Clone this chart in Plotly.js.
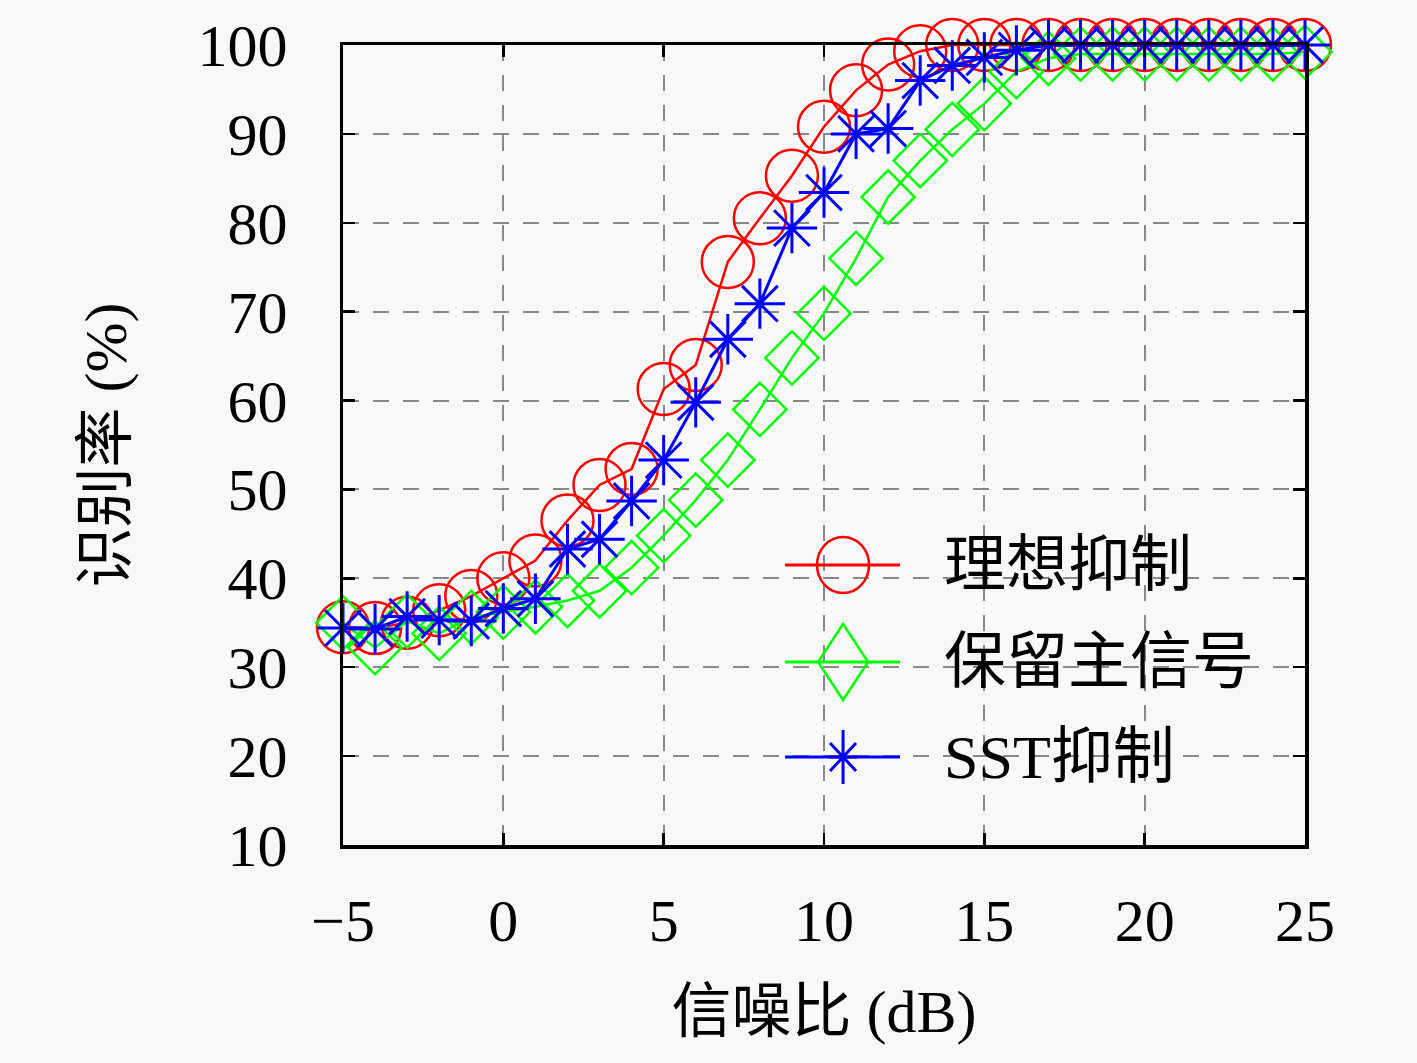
<!DOCTYPE html>
<html>
<head>
<meta charset="utf-8">
<script src="https://cdn.plot.ly/plotly-3.0.1.min.js"></script>
<style>html,body{margin:0;padding:0;background:#f8f8f8;}#chart{width:1417px;height:1063px;}</style>
</head>
<body>
<div id="chart"></div>
<script>
// SNR (dB)
const snr = [-5,-4,-3,-2,-1,0,1,2,3,4,5,6,7,8,9,10,11,12,13,14,15,16,17,18,19,20,21,22,23,24,25];
// 理想抑制
const idealRate = [34.5,34.4,35.0,36.4,38.0,40.0,42.0,46.5,50.5,52.3,61.3,64.0,75.6,80.5,85.3,90.8,94.9,97.8,99.3,100,100,100,100,100,100,100,100,100,100,100,100];
// 保留主信号
const keepRate = [35.0,32.2,35.2,33.8,35.6,36.2,36.8,37.5,38.6,41.2,44.8,48.8,53.3,59.0,64.8,69.8,76.0,82.9,87.0,90.5,93.4,97.0,98.5,99.0,99.0,99.0,99.0,99.0,99.0,99.0,99.2];
// SST抑制
const sstRate = [34.4,34.3,35.7,35.3,35.2,36.6,37.7,43.3,44.4,48.7,53.3,59.8,66.9,70.9,79.4,83.4,90.0,90.6,96.0,97.7,98.6,99.4,100,100,100,100,100,100,100,100,100];

const seriesNames = ['理想抑制','保留主信号','SST抑制'];
const xTicks = [-5,0,5,10,15,20,25];
const yTicks = [10,20,30,40,50,60,70,80,90,100];

const FONT = 'Liberation Serif, "Noto Sans CJK SC", serif';

const traces = [
  {x: snr, y: idealRate, name: seriesNames[0], mode: 'lines+markers', cliponaxis: false, showlegend: false,
   line: {color: '#ff0000', width: 2.5},
   marker: {symbol: 'circle-open', size: 52, color: '#ff0000', line: {color: '#ff0000', width: 2.5}}},
  {x: snr, y: keepRate, name: seriesNames[1], mode: 'lines+markers', cliponaxis: false, showlegend: false,
   line: {color: '#00ff00', width: 2.5},
   marker: {symbol: 'diamond-open', size: 41, color: '#00ff00', line: {color: '#00ff00', width: 2.5}}},
  {x: snr, y: sstRate, name: seriesNames[2], mode: 'lines+markers', cliponaxis: false, showlegend: false,
   line: {color: '#0000ff', width: 3},
   marker: {symbol: 'asterisk-open', size: 42, color: '#0000ff', line: {color: '#0000ff', width: 3}}}
];

// custom legend (layout decoration, paper coordinates)
const legY = [0.35, 0.22875, 0.11];
const legX0 = 0.4595, legX1 = 0.579, legXm = 0.5198, legTx = 0.6227;
const colors = ['#ff0000', '#00ff00', '#0000ff'];
const shapes = [];
const annotations = [];
for (let i = 0; i < 3; i++) {
  shapes.push({type: 'line', xref: 'paper', yref: 'paper', x0: legX0, x1: legX1, y0: legY[i], y1: legY[i],
               line: {color: colors[i], width: 3}});
  annotations.push({xref: 'paper', yref: 'paper', x: legTx, y: legY[i], xanchor: 'left', yanchor: 'middle',
                    text: seriesNames[i], showarrow: false, font: {family: FONT, size: 62, color: '#000'}});
}
shapes.push({type: 'circle', xref: 'paper', yref: 'paper', xsizemode: 'pixel', ysizemode: 'pixel',
             xanchor: legXm, yanchor: legY[0], x0: -26, x1: 26, y0: -28, y1: 28,
             line: {color: colors[0], width: 2.5}});
shapes.push({type: 'path', xref: 'paper', yref: 'paper', xsizemode: 'pixel', ysizemode: 'pixel',
             xanchor: legXm, yanchor: legY[1], path: 'M 0,38 L 25,0 L 0,-38 L -25,0 Z',
             line: {color: colors[1], width: 2.5}});
shapes.push({type: 'path', xref: 'paper', yref: 'paper', xsizemode: 'pixel', ysizemode: 'pixel',
             xanchor: legXm, yanchor: legY[2],
             path: 'M 0,-27 L 0,27 M -14,0 L 14,0 M -13,-14 L 13,14 M -13,14 L 13,-14',
             line: {color: colors[2], width: 3}});

const layout = {
  width: 1417, height: 1063,
  paper_bgcolor: '#f8f8f8', plot_bgcolor: '#f8f8f8',
  margin: {l: 343, r: 112, t: 45, b: 218},
  font: {family: FONT, size: 60, color: '#000'},
  showlegend: false,
  xaxis: {
    range: [-5, 25], tickvals: xTicks, ticks: 'inside', ticklen: 12, tickwidth: 2.5, tickcolor: '#000',
    showline: true, linecolor: '#000', linewidth: 3.5, mirror: 'ticks',
    showgrid: true, gridcolor: '#888888', gridwidth: 2, griddash: '16px,14px', zeroline: false,
    tickfont: {family: FONT, size: 60}, ticklabelstandoff: 20,
    title: {text: '信噪比 (dB)', font: {family: FONT, size: 60}, standoff: 38}
  },
  yaxis: {
    range: [10, 100], tickvals: yTicks, ticks: 'inside', ticklen: 12, tickwidth: 2.5, tickcolor: '#000',
    showline: true, linecolor: '#000', linewidth: 3.5, mirror: 'ticks',
    showgrid: true, gridcolor: '#888888', gridwidth: 2, griddash: '16px,14px', zeroline: false,
    tickfont: {family: FONT, size: 60}, ticklabelstandoff: 40,
    title: {text: '识别率 (%)', font: {family: FONT, size: 60}, standoff: 52}
  },
  shapes: shapes,
  annotations: annotations
};

Plotly.newPlot('chart', traces, layout, {displayModeBar: false, staticPlot: true});
</script>
</body>
</html>
